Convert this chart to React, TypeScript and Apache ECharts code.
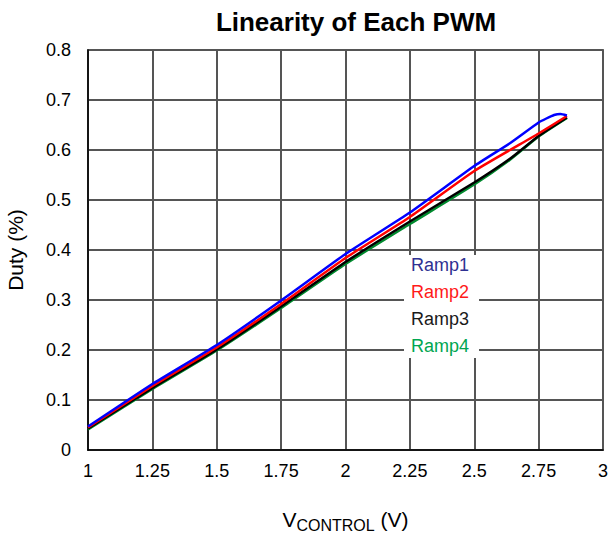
import React, { useEffect, useRef } from "react";
import * as echarts from "echarts";

const xTicks = [1, 1.25, 1.5, 1.75, 2, 2.25, 2.5, 2.75, 3];
const ramp1X = [1, 1.25, 1.5, 1.75, 2, 2.25, 2.5, 2.64, 2.75, 2.78, 2.81, 2.835, 2.86];
const ramp1Y = [0.047, 0.132, 0.21, 0.299, 0.392, 0.475, 0.568, 0.614, 0.655, 0.663, 0.67, 0.672, 0.669];
const ramp2X = [1, 1.25, 1.5, 1.75, 2, 2.25, 2.5, 2.75, 2.86];
const ramp2Y = [0.045, 0.128, 0.205, 0.292, 0.384, 0.466, 0.558, 0.633, 0.668];
const rampX = [1, 1.25, 1.5, 1.75, 2, 2.25, 2.5, 2.64, 2.75, 2.86];
const ramp3Y = [0.043, 0.124, 0.201, 0.287, 0.376, 0.457, 0.535, 0.583, 0.628, 0.665];
const ramp4Y = [0.041, 0.122, 0.199, 0.284, 0.372, 0.452, 0.531, 0.581, 0.627, 0.664];

const names = ["Ramp1", "Ramp2", "Ramp3", "Ramp4"];
const lineColors = ["#0000ff", "#ff0000", "#000000", "#008a2e"];
const legendColors = ["#2e3192", "#ff1a1a", "#1a1a1a", "#00a651"];

const pairs = (xs: number[], ys: number[]) => xs.map((x, i) => [x, ys[i]]);

export default function App() {
  const ref = useRef<HTMLDivElement>(null);
  useEffect(() => {
    if (!ref.current) return;
    const chart = echarts.init(ref.current, null, { renderer: "svg" });
    const font = "Liberation Sans, Arial, sans-serif";
    const seriesData = [
      pairs(ramp1X, ramp1Y),
      pairs(ramp2X, ramp2Y),
      pairs(rampX, ramp3Y),
      pairs(rampX, ramp4Y),
    ];
    chart.setOption({
      animation: false,
      backgroundColor: "#ffffff",
      textStyle: { fontFamily: font },
      title: {
        text: "Linearity of Each PWM",
        left: 351,
        textAlign: "center",
        top: 4,
        textStyle: { fontFamily: font, fontSize: 26, fontWeight: "bold", color: "#000" },
      },
      grid: {
        left: 88,
        right: 9,
        top: 50,
        bottom: 87,
        show: true,
        borderColor: "#000",
        borderWidth: 1.5,
        containLabel: false,
        outerBoundsMode: "none",
      },
      legend: {
        orient: "vertical",
        left: 404,
        top: 255,
        backgroundColor: "#ffffff",
        padding: [1, 10, 3, 2],
        itemGap: 9,
        itemWidth: 0,
        itemHeight: 0,
        selectedMode: false,
        data: names.map((n, i) => ({
          name: n,
          icon: "none",
          textStyle: { color: legendColors[i], fontSize: 18, fontFamily: font },
        })),
      },
      xAxis: {
        type: "value",
        min: 1,
        max: 3,
        interval: 0.25,
        name: "V{sub|CONTROL} (V)",
        nameLocation: "middle",
        nameGap: 55,
        nameTextStyle: {
          fontSize: 21,
          color: "#000",
          fontFamily: font,
          rich: {
            sub: { fontSize: 16, color: "#000", fontFamily: font, padding: [12, 0, 0, 0] },
          },
        },
        axisLine: { show: true, lineStyle: { color: "#000", width: 1.5 } },
        axisTick: { show: false },
        axisLabel: {
          color: "#000",
          fontSize: 18,
          margin: 12,
          fontFamily: font,
          formatter: (v: number) => (xTicks.includes(v) ? String(v) : ""),
        },
        splitLine: { show: true, lineStyle: { color: "#555", width: 2 } },
      },
      yAxis: {
        type: "value",
        min: 0,
        max: 0.8,
        interval: 0.1,
        name: "Duty (%)",
        nameLocation: "middle",
        nameGap: 62,
        nameTextStyle: { fontSize: 21, color: "#000", fontFamily: font },
        axisLine: { show: true, lineStyle: { color: "#000", width: 1.5 } },
        axisTick: { show: false },
        axisLabel: {
          color: "#000",
          fontSize: 18,
          margin: 17,
          fontFamily: font,
          formatter: (v: number) => (v === 0 ? "0" : v.toFixed(1)),
        },
        splitLine: { show: true, lineStyle: { color: "#555", width: 2 } },
      },
      series: [3, 2, 1, 0].map((i) => ({
        name: names[i],
        type: "line",
        data: seriesData[i],
        showSymbol: false,
        symbol: "none",
        smooth: 0.15,
        lineStyle: { color: lineColors[i], width: 2.5 },
        itemStyle: { color: lineColors[i] },
        z: 3,
      })),
    });
    return () => chart.dispose();
  }, []);
  return (
    <div
      ref={ref}
      style={{ position: "fixed", left: 0, top: 0, width: 612, height: 537 }}
    />
  );
}
